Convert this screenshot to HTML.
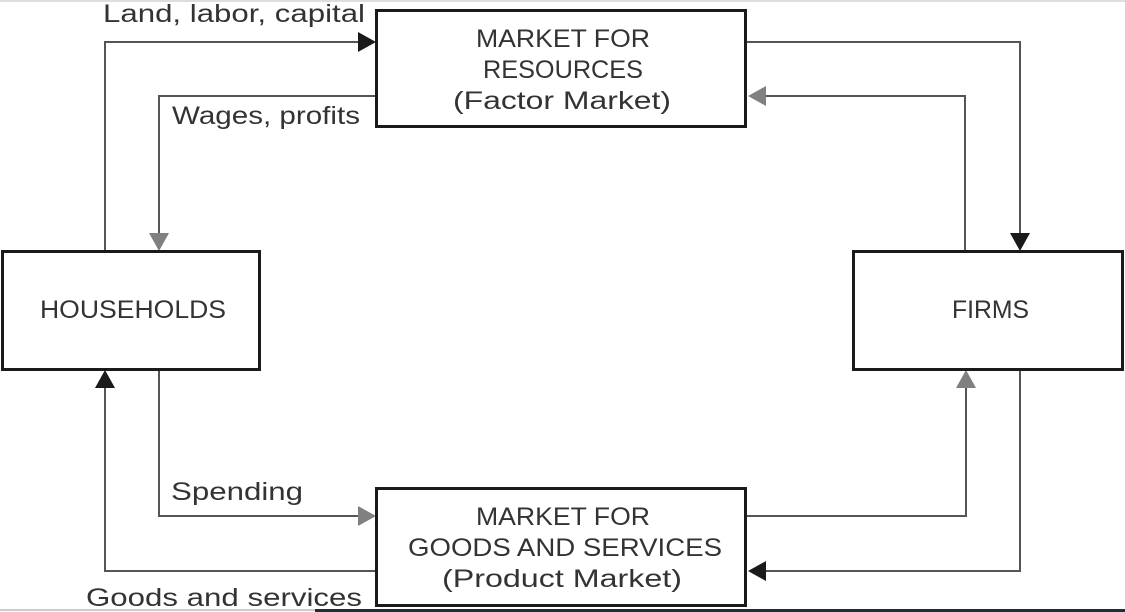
<!DOCTYPE html>
<html><head><meta charset="utf-8"><style>
html,body{margin:0;padding:0;background:#fff;}
svg{display:block;}
text{font-family:"Liberation Sans",sans-serif;fill:#333;font-size:25px;}
</style></head><body>
<svg width="1125" height="612" viewBox="0 0 1125 612" xmlns="http://www.w3.org/2000/svg">
<rect x="0" y="0" width="1125" height="2" fill="#ddd"/>
<rect x="0" y="609" width="315" height="2" fill="#ccc"/>
<rect x="315" y="609" width="810" height="3" fill="#1f2f38"/>
<g fill="none" stroke="#555" stroke-width="2">
<polyline points="105,251 105,42 360,42"/>
<polyline points="375,96 159,96 159,234"/>
<polyline points="746,42 1020,42 1020,234"/>
<polyline points="965,251 965,96 765,96"/>
<polyline points="1020,370 1020,571 765,571"/>
<polyline points="746,516 966,516 966,388"/>
<polyline points="159,370 159,516 360,516"/>
<polyline points="375,571 105,571 105,388"/>
</g>
<g>
<polygon points="358,32 376,42 358,52" fill="#1a1a1a"/>
<polygon points="149,233 169,233 159,251" fill="#808080"/>
<polygon points="1010,233 1030,233 1020,251" fill="#1a1a1a"/>
<polygon points="766,86 748,96 766,106" fill="#808080"/>
<polygon points="766,561 748,571 766,581" fill="#1a1a1a"/>
<polygon points="956,388 976,388 966,370" fill="#808080"/>
<polygon points="358,506 376,516 358,526" fill="#808080"/>
<polygon points="95,388 115,388 105,370" fill="#1a1a1a"/>
</g>
<g fill="#fff" stroke="#1a1a1a" stroke-width="3">
<rect x="376.5" y="10.5" width="369" height="116"/>
<rect x="2.5" y="251.5" width="257" height="118"/>
<rect x="853.5" y="251.5" width="269" height="118"/>
<rect x="376.5" y="488.5" width="369" height="117"/>
</g>
<text x="476" y="47" textLength="174" lengthAdjust="spacingAndGlyphs">MARKET FOR</text>
<text x="483" y="78" textLength="160" lengthAdjust="spacingAndGlyphs">RESOURCES</text>
<text x="453" y="109" textLength="218" lengthAdjust="spacingAndGlyphs">(Factor Market)</text>
<text x="40" y="318" textLength="186" lengthAdjust="spacingAndGlyphs">HOUSEHOLDS</text>
<text x="952" y="318" textLength="77" lengthAdjust="spacingAndGlyphs">FIRMS</text>
<text x="476" y="525" textLength="174" lengthAdjust="spacingAndGlyphs">MARKET FOR</text>
<text x="408" y="556" textLength="314" lengthAdjust="spacingAndGlyphs">GOODS AND SERVICES</text>
<text x="442" y="587" textLength="240" lengthAdjust="spacingAndGlyphs">(Product Market)</text>
<text x="103" y="22" textLength="262" lengthAdjust="spacingAndGlyphs">Land, labor, capital</text>
<text x="172" y="124" textLength="188" lengthAdjust="spacingAndGlyphs">Wages, profits</text>
<text x="171" y="500" textLength="132" lengthAdjust="spacingAndGlyphs">Spending</text>
<text x="86" y="606" textLength="276" lengthAdjust="spacingAndGlyphs">Goods and services</text>
</svg>
</body></html>
